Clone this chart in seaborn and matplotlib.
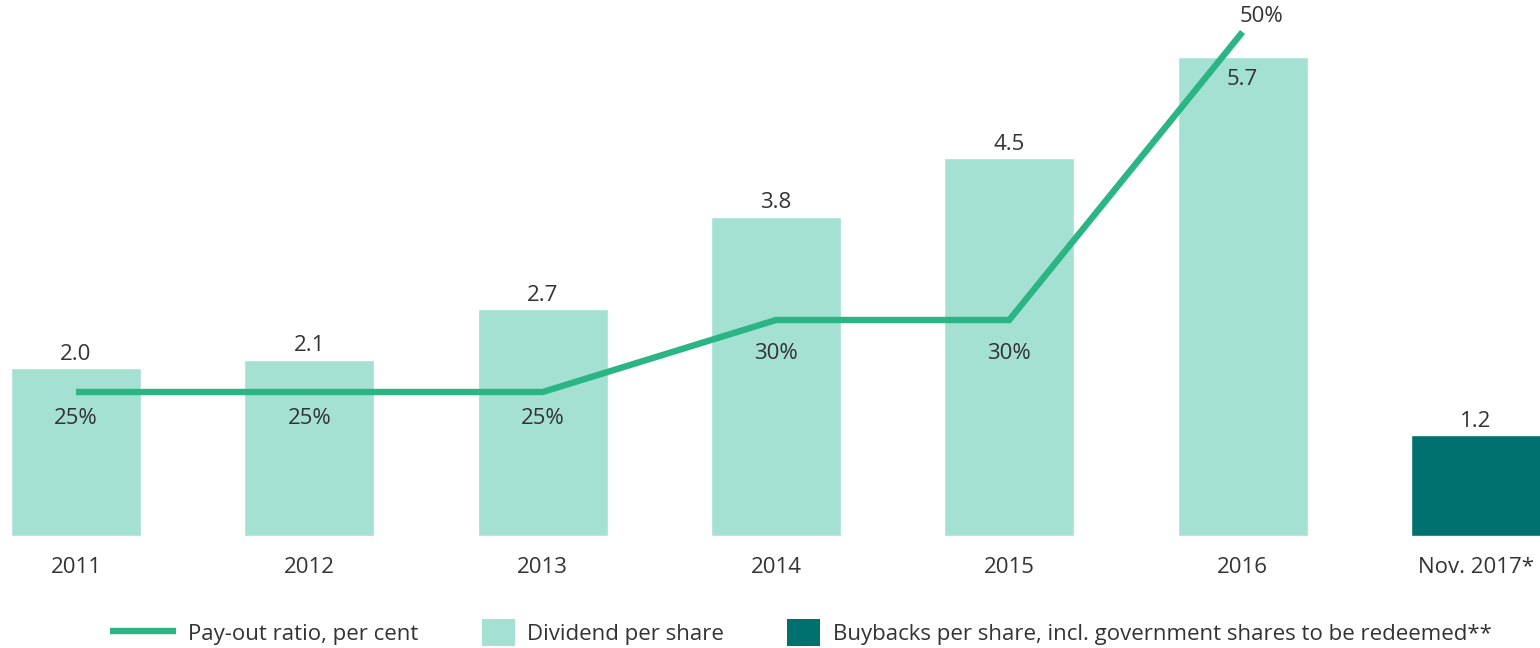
import numpy as np
import pandas as pd
import matplotlib
matplotlib.use("Agg")
import matplotlib.pyplot as plt
import seaborn as sns
from matplotlib.lines import Line2D
from matplotlib.patches import Patch, Rectangle
from matplotlib.legend_handler import HandlerPatch

# ── Datos ────────────────────────────────────────────────────────────────────
categories = ["2011", "2012", "2013", "2014", "2015", "2016", "Nov. 2017*"]
dividend = [2.0, 2.1, 2.7, 3.8, 4.5, 5.7]
buyback = [1.2]
payout = [25, 25, 25, 30, 30, 50]
payout_labels = ["25%", "25%", "25%", "30%", "30%", "50%"]

LIGHT = "#a5e1d3"
DARK = "#00716e"
LINE = "#2bb584"
TXT = "#333333"
FS = 16

sns.set_theme(style="white")
plt.rcParams["font.family"] = ["Open Sans", "DejaVu Sans"]

df = pd.DataFrame({
    "cat": categories,
    "value": dividend + buyback,
    "kind": ["Dividend"] * len(dividend) + ["Buyback"] * len(buyback),
})

fig = plt.figure(figsize=(15.4, 6.48), dpi=100)
ax = fig.add_axes([0, 112 / 648, 1, 536 / 648])

sns.barplot(data=df, x="cat", y="value", hue="kind",
            palette={"Dividend": LIGHT, "Buyback": DARK},
            dodge=False, width=0.557, saturation=1, ax=ax, legend=False)
ax.set_xlim(-0.326, 6.275)
ax.set_ylim(0, 6.38)
ax.set_xlabel("")
ax.set_ylabel("")
ax.set_yticks([])
ax.tick_params(axis="x", length=0, pad=15, labelsize=FS, labelcolor=TXT)
sns.despine(ax=ax, left=True, bottom=True)

# etiquetas de barras (5.7 va dentro de la barra)
for i, v in enumerate(df["value"]):
    dy = -16 if i == 5 else 10
    ax.annotate(f"{v:.1f}", (i, v), xytext=(0, dy), textcoords="offset points",
                ha="center", va="center", fontsize=FS, color=TXT)

# ── Línea de pay-out (eje secundario) ───────────────────────────────────────
ax2 = ax.twinx()
sns.lineplot(x=list(range(len(payout))), y=payout, ax=ax2, color=LINE,
             linewidth=4.6, solid_capstyle="butt", solid_joinstyle="miter")
ax2.set_ylim(15, 15 + 536 / 14.4)
ax2.set_xlim(-0.326, 6.275)
ax2.set_yticks([])
ax2.set_ylabel("")
sns.despine(ax=ax2, left=True, bottom=True, right=True)

for i, (p, lab) in enumerate(zip(payout, payout_labels)):
    if i == 5:
        xy = (14, 11)
    elif p == 25:
        xy = (0, -19)
    else:
        xy = (0, -24)
    ax2.annotate(lab, (i, p), xytext=xy, textcoords="offset points",
                 ha="center", va="center", fontsize=FS, color=TXT)


# ── Leyenda ──────────────────────────────────────────────────────────────────
def square_patch(legend, orig_handle, xdescent, ydescent, width, height, fontsize):
    w, h = 24, 19  # puntos
    return Rectangle((-xdescent + width - w, -ydescent + (height - h) / 2), w, h)


handles = [
    Line2D([0], [0], color=LINE, linewidth=4.6, solid_capstyle="butt"),
    Patch(facecolor=LIGHT, edgecolor="none"),
    Patch(facecolor=DARK, edgecolor="none"),
]
labels = ["Pay-out ratio, per cent", "Dividend per share",
          "Buybacks per share, incl. government shares to be redeemed**"]
fig.legend(handles, labels, loc="center", bbox_to_anchor=(0.52, 0.022), ncol=3,
           frameon=False, fontsize=FS, labelcolor=TXT, handlelength=2.97,
           handleheight=1.0, columnspacing=1.36, handletextpad=0.55,
           handler_map={Patch: HandlerPatch(patch_func=square_patch)})

plt.savefig("out.png", dpi=100)
plt.close()
